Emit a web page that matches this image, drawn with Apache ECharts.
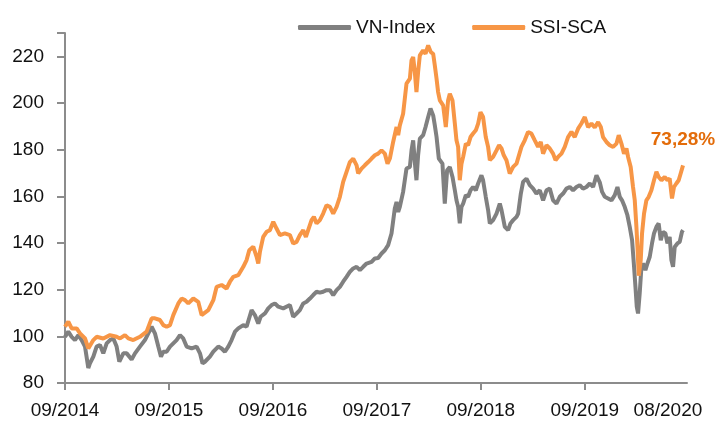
<!DOCTYPE html>
<html>
<head>
<meta charset="utf-8">
<script src="https://cdn.jsdelivr.net/npm/echarts@6/dist/echarts.min.js"></script>
<style>
html,body{margin:0;padding:0;background:#fff;}
#chart{width:717px;height:423px;}
</style>
</head>
<body>
<div id="chart"></div>
<script>
// x values: months since September 2014
const tickMonths = [0, 12, 24, 36, 48, 60];
const labelMonths = [0, 12, 24, 36, 48, 60, 69.6];
const tickLabels = ['09/2014', '09/2015', '09/2016', '09/2017', '09/2018', '09/2019', '08/2020'];
const seriesNames = ['VN-Index', 'SSI-SCA'];
const endLabelText = '73,28%';

const vniMonths = [0,0.38,0.77,1.15,1.54,1.92,2.31,2.69,2.88,3.27,3.65,4.04,4.42,4.81,5.19,5.58,5.96,6.27,6.73,7.12,7.69,8.08,8.65,9.23,9.62,10,10.38,10.77,11.08,11.35,11.73,12.12,12.5,12.88,13.27,13.65,14.04,14.62,15.19,15.58,15.88,16.15,16.73,17.12,17.69,18.08,18.46,18.85,19.23,19.62,20,20.58,20.96,21.54,21.92,22.31,22.58,23.08,23.46,23.85,24.23,24.62,25.19,25.96,26.34,26.73,27.11,27.5,27.88,28.27,28.65,29.04,29.42,29.8,30.19,30.58,30.96,31.35,31.73,32.11,32.5,32.88,33.27,33.66,34.04,34.42,34.81,35.39,35.77,36.15,36.54,36.92,37.3,37.69,38.07,38.27,38.46,38.65,39.03,39.42,39.81,40,40.19,40.38,40.57,40.76,40.96,41.34,41.62,41.92,42.19,42.5,42.69,42.89,43.15,43.57,43.84,44.11,44.42,44.73,45,45.19,45.38,45.57,45.77,45.96,46.27,46.53,46.81,47.11,47.42,47.69,48.07,48.26,48.57,48.84,49.04,49.42,49.81,50.19,50.39,50.77,51.15,51.42,51.73,52.12,52.31,52.62,52.88,53.27,53.65,54.04,54.42,54.81,55.19,55.58,55.96,56.34,56.73,57.11,57.5,57.88,58.27,58.65,59.04,59.42,59.8,60.19,60.58,60.96,61.35,61.73,62,62.31,62.69,63.08,63.46,63.77,64.04,64.3,64.61,64.92,65.19,65.46,65.69,65.85,66,66.15,66.34,66.54,66.73,67,67.23,67.5,67.76,67.99,68.27,68.53,68.77,69.03,69.31,69.54,69.8,70,70.19,70.38,70.69,70.96,71.22,71.34];
const vniValues = [99.8,102,99.8,98.4,100.5,98.4,95.6,86.4,88.4,91.3,95.6,96.3,92.7,97,98.4,99.1,95.6,89.1,92.7,92.7,90.1,92.7,95.6,98.4,101.3,104.1,101.3,95.6,91.3,93.4,93.4,95.6,97,98.4,100.5,99.1,95.6,94.8,95.6,92.7,88.4,89.1,91.3,93.4,95.6,94.8,93.4,95.6,98.4,102,103.4,104.8,104.1,111.2,109.1,105.5,108.4,109.8,112,113.4,114.1,112.7,112,113.4,108.4,109.8,111.2,114.1,114.8,116.2,117.7,119.1,118.7,119.1,119.8,119.8,117.7,119.8,121.2,123.4,125.5,127.6,129.1,129.8,128.4,129.8,131.2,131.9,133.4,133.6,135.5,136.9,139.1,144.1,154.8,157.6,153.3,155.5,161.9,171.9,172.6,179.7,184,174.7,166.9,177.6,184.7,186.2,189.7,194,197.6,194.7,190.4,185.4,176.2,174,156.9,171.2,172.6,168.3,162.6,158.3,155.5,148.4,155.5,156.9,160.5,159.8,162.6,164,162.6,165.5,169,166.9,159.8,154.1,148.4,149.8,152.6,156.9,154.1,146.9,145.5,148.4,149.8,151.2,152.6,161.2,166.2,167.6,164.8,163.3,161.2,162.6,158.3,162.6,163.3,158.3,156.9,159.8,161.2,163.3,164,162.6,164,164.8,163.3,164,165.5,164,169,166,161.9,159.8,159.1,158.3,160.5,164,159.8,158.3,155.5,151.9,146.9,141.2,129.8,121.2,112.7,109.8,118.4,129.8,131.2,128.4,131.2,134.1,139.8,144.1,146.9,148.4,141.2,144.8,144.1,139.8,142.6,132.7,129.8,138.3,139.8,140.5,144.8,145.5];

const ssiMonths = [0,0.38,0.77,1.35,1.73,2.31,2.69,3.27,3.65,4.42,5.19,5.96,6.35,6.92,7.31,7.88,8.65,9.42,10,10.38,10.96,11.35,11.73,12.12,12.5,13.08,13.46,13.85,14.23,14.81,15.38,15.77,15.96,16.54,17.12,17.5,18.08,18.65,19.04,19.42,20,20.58,20.96,21.27,21.73,22.12,22.31,22.5,22.88,23.27,23.65,24.04,24.42,24.81,25.38,25.96,26.34,26.73,27.11,27.5,27.81,28.07,28.46,28.73,29.04,29.42,29.8,30.19,30.58,30.96,31.35,31.73,32.11,32.5,32.88,33.27,33.66,33.84,34.23,34.61,35,35.39,35.77,36.15,36.54,36.92,37.23,37.5,37.88,38.27,38.46,38.65,39.03,39.42,39.81,40,40.19,40.38,40.57,40.76,40.96,41.34,41.62,41.92,42.23,42.5,42.69,42.89,43.07,43.27,43.65,43.96,44.22,44.42,44.73,45,45.19,45.38,45.57,45.77,45.96,46.27,46.53,46.81,47.11,47.42,47.69,47.96,48.26,48.57,48.84,49.04,49.42,49.81,50.11,50.39,50.65,50.96,51.34,51.73,52.12,52.31,52.69,53.07,53.45,53.84,54.23,54.61,54.92,55.19,55.58,55.96,56.34,56.62,56.92,57.31,57.69,58.07,58.46,58.84,59.23,59.61,60,60.38,60.77,61.15,61.54,61.85,62.11,62.5,62.88,63.27,63.66,63.92,64.23,64.53,64.81,65,65.3,65.57,65.77,65.96,66.08,66.23,66.46,66.61,66.84,67.11,67.38,67.69,67.99,68.27,68.53,68.85,69.23,69.54,69.8,70.07,70.3,70.57,70.84,71.07,71.34];
const ssiValues = [104.1,106.3,103.4,103.4,101.3,99.1,94.8,98.4,99.8,99.1,100.5,99.8,99.1,100.5,99.1,98.4,99.8,102,107.7,107.7,107,104.8,104.1,104.8,109.1,114.1,116.2,115.5,114.1,116.2,114.8,109.1,108.4,111.2,115.5,121.2,122,120.5,123.4,125.5,126.2,129.8,132.7,136.9,138.4,134.1,131.2,136.2,142.6,144.8,145.5,149.1,146.2,143.4,144.1,143.4,139.8,140.5,143.4,145.5,142.6,145.5,149.8,151.2,148.4,149.8,152.6,156.2,155.5,152.6,155.5,159.8,166.2,170.5,174.7,176.2,173.3,169.8,171.9,173.3,174.7,176.2,177.6,178.3,179.7,178.3,174,176.2,183.3,189.7,186.2,190.4,195.4,208.3,210.4,218.3,219.7,213.3,204.7,213.3,220.4,222.6,221.1,224.7,221.8,221.1,216.1,210.4,204.7,201.1,199,189.7,201.1,204,201.1,191.2,184,181.2,166.9,174,176.9,182.6,181.9,185.4,186.9,188.3,191.2,196.1,194,185.4,181.2,175.5,176.9,179.7,181.9,180.5,177.6,175.5,169.8,172.6,174,173.3,181.2,184,187.6,186.9,184,181.2,183.3,178.3,181.9,180.5,178.3,175.5,176.9,178.3,181.2,185.4,187.6,185.4,189,191.2,194,189.7,191.2,189.5,191.8,189.7,185.4,183.3,181.9,181.2,182.6,186.2,182.6,178.3,180.5,176.9,172.6,164,158.3,146.9,138.3,126,132.7,144.1,152.6,158.3,159.8,162.6,166.9,170.5,168.3,166.9,168.3,166.9,167.6,159.1,164,165.5,166.9,169.8,173.28];

const FONT = '"Liberation Sans", Arial, sans-serif';
const pair = (xs, ys) => xs.map((x, i) => [x, ys[i]]);
const labelMap = {};
labelMonths.forEach((m, i) => { labelMap[m] = tickLabels[i]; });

const chart = echarts.init(document.getElementById('chart'), null, {renderer: 'canvas'});
chart.setOption({
  animation: false,
  backgroundColor: '#ffffff',
  grid: {left: 65, right: 30, top: 33, bottom: 40, containLabel: false},
  legend: {
    left: 293, top: 13,
    itemWidth: 53, itemHeight: 5, itemGap: 37,
    icon: 'roundRect',
    textStyle: {fontFamily: FONT, fontSize: 19, color: '#111'},
    data: seriesNames
  },
  xAxis: {
    type: 'value', min: 0, max: 71.8,
    axisLine: {show: true, lineStyle: {color: '#8c8c8c', width: 2}},
    axisTick: {show: true, length: 7, lineStyle: {color: '#8c8c8c', width: 2}, customValues: tickMonths},
    axisLabel: {
      customValues: labelMonths,
      formatter: v => labelMap[v] !== undefined ? labelMap[v] : '',
      fontFamily: FONT, fontSize: 19, color: '#111', margin: 18
    },
    splitLine: {show: false}
  },
  yAxis: {
    type: 'value', min: 80, max: 230, interval: 20,
    axisLine: {show: true, lineStyle: {color: '#8c8c8c', width: 2}},
    axisTick: {show: true, length: 8, lineStyle: {color: '#8c8c8c', width: 2}},
    axisLabel: {fontFamily: FONT, fontSize: 19, color: '#111', margin: 21,
      formatter: v => (v <= 220 ? String(v) : '')},
    splitLine: {show: false}
  },
  series: [
    {
      name: seriesNames[0], type: 'line', showSymbol: false, symbol: 'none',
      lineStyle: {color: '#808080', width: 4}, itemStyle: {color: '#808080'},
      data: pair(vniMonths, vniValues)
    },
    {
      name: seriesNames[1], type: 'line', showSymbol: false, symbol: 'none',
      lineStyle: {color: '#F79646', width: 4}, itemStyle: {color: '#F79646'},
      data: pair(ssiMonths, ssiValues),
      markPoint: {
        symbol: 'circle', symbolSize: 0,
        data: [{coord: [ssiMonths[ssiMonths.length - 1], ssiValues[ssiValues.length - 1]]}],
        label: {show: true, position: 'inside', offset: [0, -26], formatter: endLabelText,
          fontFamily: FONT, fontSize: 19, fontWeight: 'bold', color: '#E36C0A'}
      }
    }
  ]
});
</script>
</body>
</html>
